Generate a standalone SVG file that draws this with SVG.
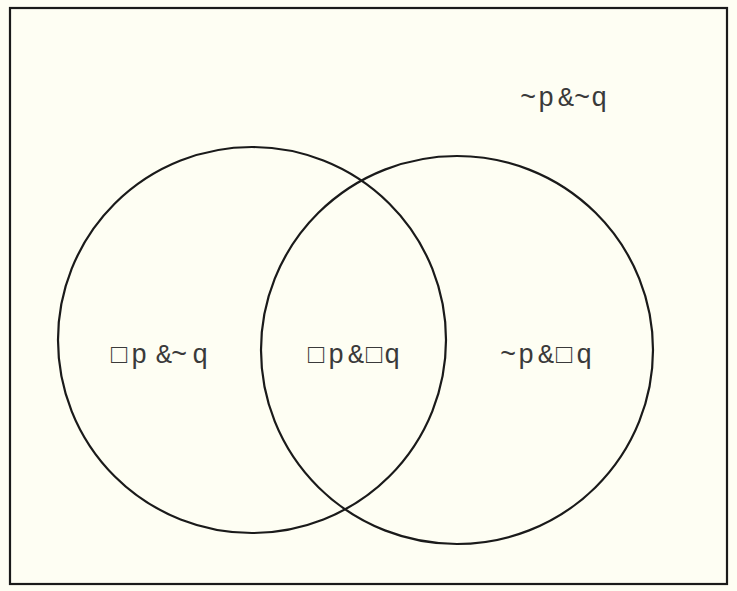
<svg xmlns="http://www.w3.org/2000/svg" width="737" height="591" viewBox="0 0 737 591">
  <style>
    .frame { fill: #fefef3; stroke: #1a1a1a; stroke-width: 2.2; }
    .circle { fill: none; stroke: #1a1a1a; stroke-width: 2.2; }
    .lbl { font-family: "Liberation Mono", "DejaVu Sans Mono", monospace; font-size: 27px; fill: #3a3a3a; }
  </style>
  <rect x="0" y="0" width="737" height="591" fill="#fefef3"/>
  <g id="frame">
    <rect class="frame" x="10" y="8" width="717" height="576"/>
  </g>
  <g id="setP">
    <ellipse class="circle" cx="252" cy="340" rx="194" ry="193"/>
  </g>
  <g id="setQ">
    <ellipse class="circle" cx="457" cy="350" rx="196" ry="194"/>
  </g>
  <g id="label-notp-notq">
    <text class="lbl" x="520 538 558 574 591" y="106">~p&amp;~q</text>
  </g>
  <g id="label-p-notq">
    <text class="lbl" x="111 131 156 171 192" y="363">□p&amp;~q</text>
  </g>
  <g id="label-p-q">
    <text class="lbl" x="308 328 348 366 384" y="363">□p&amp;□q</text>
  </g>
  <g id="label-notp-q">
    <text class="lbl" x="500 518 538 556 576" y="363">~p&amp;□q</text>
  </g>
  <g id="connectors"></g>
</svg>
